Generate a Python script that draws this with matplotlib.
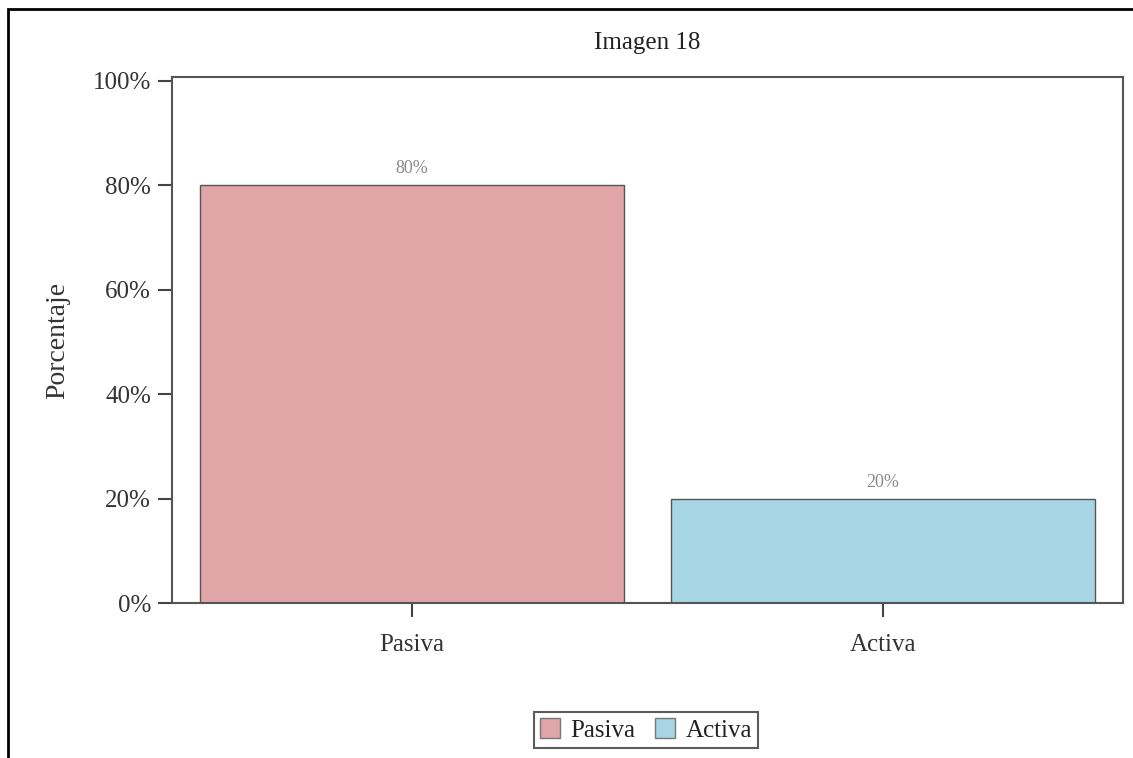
import matplotlib
matplotlib.use("Agg")
import matplotlib.pyplot as plt
from matplotlib.patches import Patch, Rectangle
from matplotlib.ticker import FuncFormatter

categories = ["Pasiva", "Activa"]
values = [80, 20]
colors = ["#E0A6A7", "#A6D5E3"]
title = "Imagen 18"
ylabel = "Porcentaje"
yticks = [0, 20, 40, 60, 80, 100]

plt.rcParams['font.family'] = ['Liberation Serif', 'DejaVu Serif']

fig = plt.figure(figsize=(11.33, 7.58), dpi=100)
fig.patch.set_facecolor("white")
ax = fig.add_axes([172/1133, 1 - 603/758, (1123-172)/1133, (603-77)/758])

x = list(range(len(categories)))
bars = ax.bar(x, values, width=0.9, color=colors, edgecolor="#555555", linewidth=1.0)
for xi, v in zip(x, values):
    ax.text(xi, v + 1.5, f"{v}%", ha="center", va="bottom", fontsize=13, color="#8a8a8a")

ax.set_xlim(-0.51, 1.51)
ax.set_ylim(0, 100.7)
ax.set_yticks(yticks)
ax.yaxis.set_major_formatter(FuncFormatter(lambda v, p: f"{int(v)}%"))
ax.set_xticks(x)
ax.set_xticklabels(categories)
ax.tick_params(axis="both", direction="out", length=10, width=1.5, color="#444444",
               labelsize=18, labelcolor="#333333", pad=5)
ax.tick_params(axis="x", pad=12)
for s in ax.spines.values():
    s.set_color("#555555")
    s.set_linewidth(1.5)

ax.set_title(title, fontsize=18, color="#222222", pad=20)
ax.set_ylabel(ylabel, fontsize=20, color="#333333", labelpad=16)

handles = [Patch(facecolor=c, edgecolor="#777777", label=l) for c, l in zip(colors, categories)]
leg = fig.legend(handles=handles, loc="center", bbox_to_anchor=(646/1133, 1 - 730/758), ncol=2,
                 fontsize=18, frameon=True, fancybox=False, handlelength=0.8, handleheight=0.8,
                 handletextpad=0.4, columnspacing=0.8, borderpad=0.25, borderaxespad=0)
leg.get_frame().set_edgecolor("#333333")
leg.get_frame().set_linewidth(1.5)
for t in leg.get_texts():
    t.set_color("#222222")

fig.add_artist(Rectangle((8/1133, -0.1), 1.2, 1.1 - 9/758, transform=fig.transFigure,
                         fill=False, edgecolor="black", linewidth=2.0))

fig.savefig("out.png", dpi=100, facecolor="white")
